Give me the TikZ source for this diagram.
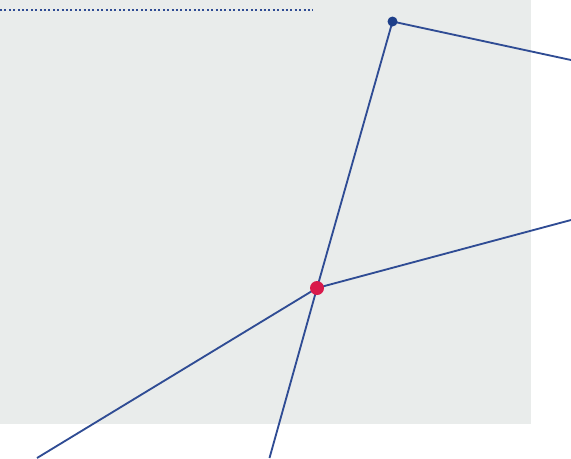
\documentclass[tikz,border=0pt]{standalone}
\usepackage{tikz}
\usetikzlibrary{positioning,backgrounds}
\definecolor{panelgray}{HTML}{E9ECEB}
\definecolor{linkblue}{HTML}{2F4C94}
\definecolor{dotblue}{HTML}{1E3F8A}
\definecolor{dotred}{HTML}{D91A4B}
\tikzset{
  link/.style={draw=linkblue, line width=1.05pt},
  bluedot/.style={circle, fill=dotblue, inner sep=0pt, minimum size=0.2cm},
  reddot/.style={circle, fill=dotred, inner sep=0pt, minimum size=0.28cm},
  guide/.style={draw=linkblue, line width=0.045cm, dash pattern=on 0.04cm off 0.048cm}
}
\begin{document}
\begin{tikzpicture}[x=0.02cm, y=-0.02cm]
  \useasboundingbox (0,0) rectangle (571,458);
  \node[bluedot] (top) at (392.5,21.5) {};
  \node[reddot] (cross) at (317,288) {};
  \coordinate (eastA) at (571,60);
  \coordinate (eastB) at (571,220);
  \coordinate (southA) at (37,458);
  \coordinate (southB) at (269.5,458);
  \begin{scope}[on background layer]
    \fill[panelgray] (0,0) rectangle (531,424);
    \draw[guide] (0,10) -- (313,10);
    \draw[link] (top.center) -- (eastA);
    \draw[link] (top.center) -- (cross.center) -- (southB);
    \draw[link] (southA) -- (cross.center) -- (eastB);
  \end{scope}
\end{tikzpicture}
\end{document}
